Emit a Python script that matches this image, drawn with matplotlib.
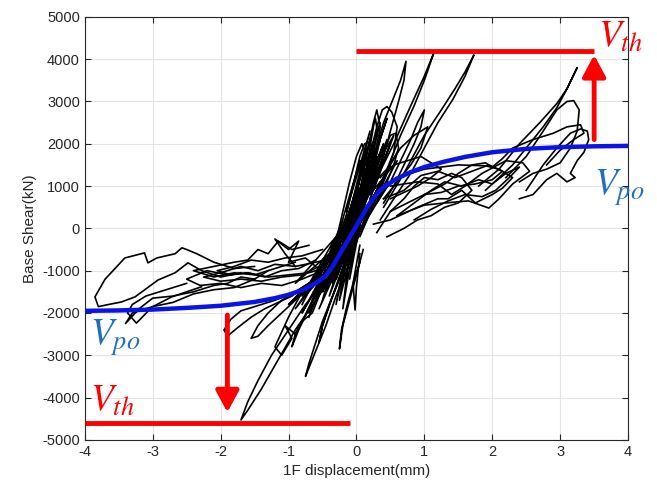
import numpy as np
import matplotlib
matplotlib.use("Agg")
import matplotlib.pyplot as plt

plt.rcParams['font.family'] = ['Liberation Sans', 'DejaVu Sans']
plt.rcParams['mathtext.fontset'] = 'stix'
plt.rcParams['axes.unicode_minus'] = False

# pushover curve (blue)
po_x = [-4.0, -3.5, -3.0, -2.5, -2.0, -1.5, -1.2, -1.0, -0.8, -0.6, -0.45, -0.35, -0.25,
        -0.15, -0.05, 0.05, 0.15, 0.25, 0.35, 0.45, 0.6, 0.8, 1.0, 1.3, 1.6, 2.0, 2.5, 3.0, 3.5, 4.0]
po_y = [-1950, -1940, -1920, -1880, -1830, -1740, -1650, -1570, -1460, -1300, -1120, -900, -620,
        -350, -80, 200, 480, 720, 900, 1030, 1180, 1330, 1450, 1580, 1690, 1800, 1880, 1920, 1940, 1950]

# hysteresis loops (black)
loops = [
    # big positive spikes
    ([-0.2, 0.1, 0.3, 0.55, 0.8, 1.0, 1.14, 1.0, 0.85, 0.65, 0.45, 0.25, 0.05, -0.1],
     [-500, 500, 1200, 2000, 2900, 3600, 4150, 3500, 2900, 2200, 1400, 600, -100, -800]),
    ([0.4, 0.7, 1.0, 1.25, 1.45, 1.6, 1.73, 1.6, 1.42, 1.2, 1.0, 0.8, 0.55, 0.35],
     [500, 1300, 2200, 2800, 3300, 3700, 4100, 3600, 3050, 2500, 1900, 1300, 700, 200]),
    ([0.1, 0.25, 0.4, 0.55, 0.65, 0.73, 0.7, 0.62, 0.5, 0.4, 0.25, 0.1],
     [800, 1700, 2500, 3100, 3500, 3950, 3500, 3000, 2300, 1700, 1100, 500]),
    ([0.0, 0.15, 0.3, 0.38, 0.45, 0.52, 0.6, 0.55, 0.45, 0.35, 0.2, 0.05],
     [300, 1400, 2400, 2800, 2880, 2750, 2400, 1800, 1300, 900, 500, 100]),
    ([-0.1, 0.05, 0.15, 0.25, 0.3, 0.35, 0.3, 0.22, 0.1, 0.0],
     [-200, 900, 1700, 2500, 2800, 2400, 1800, 1200, 500, 0]),
    ([0.3, 0.5, 0.65, 0.8, 0.9, 1.0, 0.95, 0.85, 0.7, 0.55, 0.4],
     [600, 1100, 1600, 2100, 2500, 2800, 2400, 2000, 1500, 1000, 600]),
    ([-0.05, 0.1, 0.2, 0.28, 0.32, 0.26, 0.18, 0.08, -0.02],
     [600, 1500, 2100, 2600, 2150, 1600, 1100, 700, 300]),
    ([-0.15, -0.05, 0.05, 0.12, 0.2, 0.26, 0.22, 0.15, 0.05, -0.05],
     [300, 1000, 1700, 2000, 2050, 1800, 1300, 900, 500, 100]),
    ([-0.3, -0.2, -0.1, 0.0, 0.08, 0.14, 0.1, 0.02, -0.08, -0.2],
     [-300, 400, 1100, 1700, 2000, 1750, 1200, 700, 200, -300]),
    ([0.15, 0.3, 0.42, 0.5, 0.58, 0.62, 0.55, 0.45, 0.32, 0.2],
     [400, 1200, 1900, 2200, 2250, 1900, 1500, 1100, 700, 350]),
    # core zigzags
    ([-0.45, 0.1, -0.2, 0.3, -0.1, 0.2, -0.3, 0.0, -0.2, 0.25, -0.35, 0.15, -0.05, 0.35, -0.25, 0.05, -0.4, 0.2],
     [-1500, 1500, -500, 2200, -1200, 1800, -1800, 800, -1900, 2400, -1300, 1900, -600, 2100, -1700, 1200, -1100, 1600]),
    ([-0.3, 0.2, -0.15, 0.4, 0.0, 0.45, -0.1, 0.3, -0.25, 0.1, -0.4, 0.15, -0.2, 0.35, 0.05, 0.5, 0.1, 0.6],
     [-900, 1300, -300, 1900, 200, 2100, -400, 1500, -1400, 900, -1600, 700, -1000, 1100, -200, 1500, 300, 1800]),
    ([-0.6, -0.2, -0.5, 0.0, -0.35, 0.05, -0.55, -0.1, -0.7, -0.25, -0.8, -0.3, -0.9, -0.4],
     [-1600, 200, -1000, 600, -1300, 400, -1900, -300, -2000, -700, -1600, -200, -1300, -600]),
    ([-0.5, -0.15, -0.4, 0.1, -0.25, 0.2, -0.15, 0.3, -0.05, 0.4, 0.0, 0.25, -0.3, 0.15, -0.45, -0.05],
     [-1700, 300, -800, 1000, -600, 1300, -200, 1700, 100, 2000, 400, 1200, -1200, 800, -1400, -100]),
    ([-0.7, -0.3, -0.6, -0.15, -0.5, -0.05, -0.45, 0.05, -0.3, 0.12, -0.2, 0.22, -0.1],
     [-2100, -500, -1700, -200, -1500, 100, -1200, 500, -900, 900, -500, 1300, 0]),
    ([-0.35, 0.05, -0.15, 0.2, -0.05, 0.35, 0.1, 0.45, 0.15, 0.55, 0.2],
     [-600, 1600, 400, 2300, 700, 2500, 900, 2600, 1100, 2200, 700]),
    ([-0.2, -0.55, -0.3, -0.65, -0.4, -0.8, -0.5, -0.9, -0.6, -1.0, -0.7],
     [-100, -1400, -600, -1700, -900, -2000, -1100, -1900, -1200, -1800, -1300]),
    ([-0.1, 0.15, 0.0, 0.3, 0.1, 0.4, 0.2, 0.5, 0.25, 0.6, 0.3, 0.45, 0.15],
     [-300, 900, 300, 1400, 600, 1700, 800, 2000, 900, 1600, 700, 1000, 200]),
    ([-0.55, -0.25, -0.45, -0.1, -0.35, 0.0, -0.2, 0.1, -0.15, 0.18, -0.05],
     [-1200, -100, -900, 300, -700, 500, -400, 800, -200, 1100, 200]),
    ([-0.8, -0.45, -0.75, -0.35, -0.65, -0.25, -0.55, -0.2, -0.45],
     [-1800, -700, -1500, -500, -1400, -300, -1100, -200, -900]),
    # right-side wavy loops
    ([0.2, 0.6, 1.0, 1.5, 1.9, 2.1, 2.3, 2.15, 2.0, 1.75, 1.55, 1.35, 1.2, 0.9, 0.5, 0.25],
     [600, 1200, 1400, 1500, 1480, 1400, 1200, 950, 800, 600, 900, 700, 700, 500, 200, 100]),
    ([0.5, 0.9, 1.2, 1.4, 1.6, 1.85, 2.2, 2.45, 2.55, 2.3, 2.1, 1.95, 1.65, 1.3, 1.0, 0.6],
     [1000, 1100, 1050, 800, 1000, 1300, 1600, 1550, 1350, 1050, 700, 480, 650, 600, 550, 300]),
    ([1.8, 2.1, 2.4, 2.7, 2.95, 3.1, 3.25, 3.1, 2.95, 2.75, 2.6, 2.45, 2.3, 2.1, 1.9],
     [1000, 1400, 2000, 2500, 2950, 3300, 3800, 3300, 2850, 2400, 2100, 1800, 1500, 1200, 900]),
    ([2.2, 2.5, 2.75, 2.95, 3.1, 3.2, 3.28, 3.25, 3.15, 3.0, 2.8, 2.6, 2.4],
     [1200, 1700, 2300, 2800, 3000, 3020, 2800, 2300, 1900, 1550, 1400, 1300, 1100]),
    ([2.5, 2.75, 2.95, 3.15, 3.3, 3.4, 3.42, 3.35, 3.25, 3.15, 3.22, 3.1, 2.95, 2.8, 2.6, 2.4],
     [900, 1500, 1900, 2250, 2350, 2300, 2100, 1800, 1600, 1300, 1200, 1100, 1300, 1150, 800, 700]),
    ([1.0, 1.3, 1.5, 1.7, 1.9, 2.0, 2.15, 2.3, 2.6, 2.9, 3.1, 3.3, 3.35, 3.2, 3.0, 2.8],
     [800, 1050, 1300, 1500, 1550, 1450, 1650, 1900, 2100, 2250, 2400, 2450, 2250, 2100, 1850, 1500]),
    ([0.3, 0.5, 0.7, 0.85, 1.0, 1.2, 1.4, 1.55, 1.7, 1.5, 1.3, 1.1, 0.9, 0.7, 0.45],
     [-100, 400, 700, 1000, 1200, 1150, 1300, 1200, 900, 600, 500, 300, 200, 0, -200]),
    ([0.2, 0.45, 0.65, 0.85, 1.05, 0.95, 0.8, 0.6, 0.4],
     [1000, 1400, 1900, 2200, 2400, 1900, 1500, 1100, 700]),
    ([0.4, 0.7, 0.95, 1.2, 1.45, 1.7, 1.95, 2.15, 2.0, 1.75, 1.5, 1.25, 1.0, 0.75, 0.5],
     [700, 900, 1250, 1350, 1200, 1350, 1500, 1350, 1150, 1050, 1000, 850, 800, 600, 400]),
    ([0.6, 0.85, 1.1, 1.3, 1.55, 1.8, 2.0, 2.2, 2.4, 2.25, 2.05, 1.85, 1.6, 1.35, 1.1, 0.85],
     [300, 600, 900, 1100, 1000, 1150, 1050, 1300, 1450, 1200, 900, 750, 800, 650, 450, 200]),
    ([0.35, 0.55, 0.75, 0.95, 1.1, 1.25, 1.1, 0.9, 0.7, 0.5],
     [1200, 1500, 1600, 1700, 1550, 1400, 1200, 1000, 850, 700]),
    # big negative spikes
    ([0.0, -0.3, -0.6, -0.9, -1.15, -1.4, -1.6, -1.7, -1.6, -1.45, -1.25, -1.0, -0.75, -0.5, -0.25],
     [-300, -1000, -1700, -2400, -3100, -3800, -4300, -4530, -4100, -3600, -3000, -2400, -1800, -1300, -700]),
    ([-0.1, -0.3, -0.45, -0.6, -0.7, -0.75, -0.7, -0.62, -0.5, -0.35, -0.2],
     [-800, -1600, -2300, -2900, -3300, -3500, -3200, -2800, -2200, -1600, -1000]),
    ([0.1, 0.0, -0.1, -0.2, -0.25, -0.22, -0.15, -0.05, 0.05],
     [-500, -1100, -1700, -2300, -2850, -2400, -1900, -1300, -800]),
    ([0.05, -0.05, -0.02, 0.0, 0.05], [-400, -1300, -1930, -1400, -600]),
    ([-0.8, -1.0, -1.2, -1.1, -0.95, -1.05, -0.9, -0.8, -0.65, -0.5],
     [-1500, -2100, -2800, -3000, -2600, -2300, -2500, -2200, -2000, -1400]),
    ([-0.3, -0.5, -0.7, -0.85, -0.95, -0.9, -0.8, -0.65, -0.5, -0.35],
     [-600, -1300, -1900, -2400, -2800, -2500, -2200, -1700, -1300, -800]),
    ([-0.2, -0.35, -0.5, -0.55, -0.5, -0.4, -0.25],
     [-900, -1600, -2300, -2700, -2300, -1800, -1200]),
    # left-side loops
    ([-0.6, -0.9, -1.2, -1.5, -1.7, -1.85, -1.95, -1.9, -1.75, -1.55, -1.35, -1.15, -0.95, -0.7],
     [-1200, -1500, -1700, -1850, -1950, -2150, -2400, -2550, -2350, -2100, -1900, -1750, -1600, -1300]),
    ([-0.5, -0.8, -1.1, -1.3, -1.45, -1.55, -1.45, -1.3, -1.1, -0.9, -0.7],
     [-1100, -1400, -1700, -2000, -2300, -2600, -2550, -2300, -2000, -1700, -1400]),
    ([-0.4, -0.7, -1.0, -1.3, -1.6, -1.9, -2.2, -2.5, -2.3, -2.0, -1.7, -1.4, -1.1, -0.8, -0.5],
     [-900, -1050, -1100, -1150, -1050, -1100, -1000, -1200, -1350, -1300, -1400, -1300, -1350, -1200, -1000]),
    ([-0.3, -0.6, -0.9, -1.2, -1.45, -1.7, -2.0, -2.25, -2.0, -1.7, -1.4, -1.1, -0.8, -0.55],
     [-700, -800, -900, -850, -1000, -900, -1050, -1150, -1250, -1200, -1250, -1150, -1100, -900]),
    ([-0.7, -0.95, -1.15, -1.3, -1.45, -1.6, -1.8, -2.1, -2.4, -2.1, -1.8, -1.5, -1.2, -0.9],
     [-400, -500, -300, -600, -500, -750, -800, -900, -1000, -1150, -1050, -1100, -950, -800]),
    ([-0.5, -0.8, -1.05, -1.3, -1.55, -1.8, -2.05, -1.85, -1.6, -1.35, -1.1, -0.85, -0.6],
     [-500, -650, -700, -800, -750, -900, -1000, -1100, -1050, -1150, -1000, -950, -750]),
    ([-1.3, -1.5, -1.7, -1.9, -2.1, -2.4, -2.7, -3.0, -3.2, -3.4, -3.3, -3.0, -2.7, -2.4, -2.1, -1.8, -1.5],
     [-1000, -1200, -1150, -1300, -1350, -1500, -1600, -1650, -1900, -2250, -2000, -1850, -1750, -1550, -1450, -1400, -1200]),
    ([-1.5, -1.8, -2.1, -2.35, -2.5, -2.57, -2.67, -2.94, -3.07, -3.12, -3.41, -3.7, -3.85, -3.8,
      -3.65, -3.46, -3.26, -2.92, -2.67, -2.48, -2.28, -2.0, -1.7],
     [-900, -950, -800, -600, -500, -460, -600, -700, -815, -580, -700, -1200, -1620, -1850,
      -1800, -1740, -1620, -1220, -1050, -815, -1000, -1150, -1050]),
    ([-2.28, -2.72, -3.01, -3.19, -3.24, -3.37, -3.3, -3.1, -2.8, -2.5],
     [-1380, -1620, -1860, -2160, -2240, -2000, -1800, -1600, -1450, -1300]),
    ([-0.9, -1.05, -1.2, -1.0, -0.85, -1.0, -0.75, -0.6],
     [-900, -600, -250, -500, -300, -800, -700, -900]),
]

# red threshold lines and arrows
vth_top = 4200
vth_bot = -4600
top_line_x = [0.0, 3.5]
bot_line_x = [-4.0, -0.1]
arrow_up = (3.5, 2100, 4100)
arrow_down = (-1.9, -2050, -4350)

fig = plt.figure(figsize=(6.57, 4.97), dpi=100)
ax = fig.add_axes([0.129, 0.115, 0.827, 0.851])

for lx, ly in loops:
    ax.plot(lx, ly, color='black', lw=1.2, zorder=2)

ax.plot(po_x, po_y, color='#0a14e6', lw=3.2, zorder=3)

ax.plot(top_line_x, [vth_top, vth_top], color='#ff0000', lw=3.5, zorder=4, solid_capstyle='butt')
ax.plot(bot_line_x, [vth_bot, vth_bot], color='#ff0000', lw=3.5, zorder=4, solid_capstyle='butt')

for ax_x, y0, y1 in [arrow_up, arrow_down]:
    ax.annotate('', xy=(ax_x, y1), xytext=(ax_x, y0),
                arrowprops=dict(arrowstyle='-|>,head_length=1.3,head_width=0.7',
                                color='#ff0000', lw=3.5, shrinkA=0, shrinkB=0),
                zorder=5)

ax.text(3.55, 4100, r'$V_{th}$', color='#ff0000', fontsize=27, ha='left', va='bottom',
        clip_on=False, zorder=6)
ax.text(3.5, 1450, r'$V_{po}$', color='#1f6fc0', fontsize=27, ha='left', va='top',
        clip_on=False, zorder=6)
ax.text(-3.92, -2100, r'$V_{po}$', color='#1f6fc0', fontsize=27, ha='left', va='top', zorder=6)
ax.text(-3.92, -4500, r'$V_{th}$', color='#ff0000', fontsize=27, ha='left', va='bottom', zorder=6)

ax.set_xlim(-4, 4)
ax.set_ylim(-5000, 5000)
ax.set_xticks(np.arange(-4, 5, 1))
ax.set_yticks(np.arange(-5000, 5001, 1000))
ax.grid(True, color='#e3e3e3', lw=0.8)
ax.set_axisbelow(True)
ax.tick_params(direction='in', top=True, right=True, labelsize=10.5, colors='#262626', length=4)
for s in ax.spines.values():
    s.set_color('#262626')
    s.set_linewidth(0.8)
ax.set_xlabel('1F displacement(mm)', fontsize=11, color='#262626')
ax.set_ylabel('Base Shear(kN)', fontsize=11, color='#262626')

fig.savefig('out.png', dpi=100)
